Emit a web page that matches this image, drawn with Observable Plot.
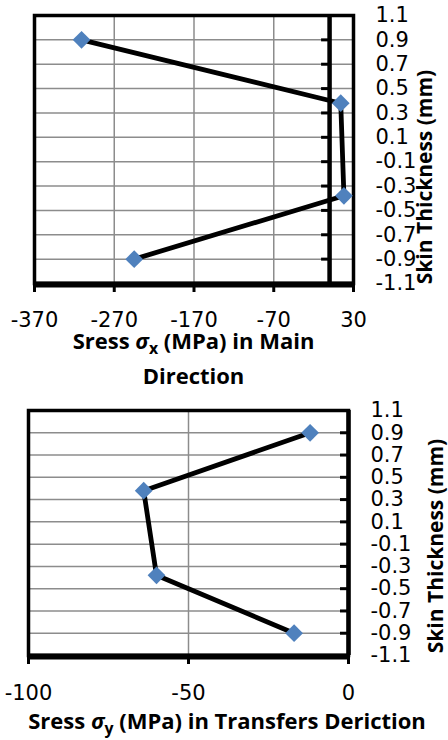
<!DOCTYPE html>
<html>
<head>
<meta charset="utf-8">
<script src="https://cdn.jsdelivr.net/npm/d3@7"></script>
<script src="https://cdn.jsdelivr.net/npm/@observablehq/plot@0.6"></script>
<style>
  html, body { margin: 0; padding: 0; background: #fff; }
  #wrap { position: relative; width: 448px; height: 740px; overflow: hidden; background: #fff; }
  .chart { position: absolute; left: 0; }
  .title { position: absolute; font-family: "Open Sans", sans-serif; font-weight: 700; font-size: 22px; line-height: 31.7px; color: #000; text-align: center; white-space: nowrap; }
  .title i { font-weight: 700; }
  .title .sub { font-size: 0.72em; position: relative; top: 0.3em; }
  .ylab { position: absolute; font-family: "Open Sans", sans-serif; font-weight: 700; font-size: 21px; color: #000; white-space: nowrap; transform: translate(-50%, -50%) rotate(-90deg); line-height: 1; }
</style>
</head>
<body>
<div id="wrap">
  <div id="c1" class="chart" style="top:0px"></div>
  <div id="c2" class="chart" style="top:390px"></div>
  <div class="title" style="left:34px; width:319px; top:325px">Sress <i>σ</i><span class="sub">x</span> (MPa) in Main<br>Direction</div>
  <div class="title" style="left:6px; width:442px; top:705px">Sress <i>σ</i><span class="sub">y</span> (MPa) in Transfers Deriction</div>
  <div class="ylab" style="left:424px; top:177px">Skin Thickness (mm)</div>
  <div class="ylab" style="left:435px; top:546px">Skin Thickness (mm)</div>
</div>
<script>
// Data
const thickness = [0.9, 0.38, -0.38, -0.9];          // mm
const sigmaX = [-311, 14, 18, -245];                  // MPa, main direction
const sigmaY = [-12, -64, -60, -17];                  // MPa, transverse direction
const yTicks = [1.1, 0.9, 0.7, 0.5, 0.3, 0.1, -0.1, -0.3, -0.5, -0.7, -0.9, -1.1];
const yGrid = [0.9, 0.7, 0.5, 0.3, 0.1, -0.1, -0.3, -0.5, -0.7, -0.9];
const xTicksMain = [-370, -270, -170, -70, 30];
const xGridMain = [-270, -170, -70];
const xTicksTrans = [-100, -50, 0];
const xGridTrans = [-50];

const dataMain = thickness.map((t, i) => ({t, s: sigmaX[i]}));
const dataTrans = thickness.map((t, i) => ({t, s: sigmaY[i]}));

const fmt = d => String(d);
const gridColor = "#8c8c8c";
const blue = "#4F81BD";

function chart({data, xDomain, xTicks, xGrid, height, marginLeft, marginRight, marginTop, marginBottom, labelPad}) {
  return Plot.plot({
    width: 448,
    height,
    marginLeft, marginRight, marginTop, marginBottom,
    style: {fontFamily: "DejaVu Sans", fontSize: "21px", color: "#000", background: "transparent", overflow: "visible"},
    x: {domain: xDomain},
    y: {domain: [-1.1, 1.1]},
    marks: [
      Plot.gridY(yGrid, {stroke: gridColor, strokeOpacity: 1, strokeWidth: 1.5}),
      Plot.gridX(xGrid, {stroke: gridColor, strokeOpacity: 1, strokeWidth: 1.5}),
      Plot.frame({stroke: "#000", strokeWidth: 3.5}),
      Plot.ruleY([-1.1], {stroke: "#000", strokeWidth: 6, dy: 1}),
      Plot.ruleX([0], {stroke: "#000", strokeWidth: 4.5}),
      Plot.ruleY(yTicks, {y: d => d, x1: 0, x2: 0, insetLeft: -8, stroke: "#000", strokeWidth: 3}),
      Plot.axisX({ticks: xTicks, tickFormat: fmt, tickSize: 9, tickPadding: labelPad, strokeWidth: 3, label: null, fontSize: 21}),
      Plot.axisY({anchor: "right", ticks: yTicks, tickFormat: fmt, tickSize: 0, tickPadding: 22, label: null, fontSize: 21}),
      Plot.line(data, {x: "s", y: "t", stroke: "#000", strokeWidth: 4.8}),
      Plot.dot(data, {x: "s", y: "t", symbol: "diamond2", r: 8, fill: blue, stroke: "none"})
    ]
  });
}

document.getElementById("c1").append(chart({
  data: dataMain, xDomain: [-370, 30], xTicks: xTicksMain, xGrid: xGridMain,
  height: 340, marginLeft: 34, marginRight: 95, marginTop: 15, marginBottom: 57, labelPad: 20
}));
document.getElementById("c2").append(chart({
  data: dataTrans, xDomain: [-100, 0], xTicks: xTicksTrans, xGrid: xGridTrans,
  height: 320, marginLeft: 28, marginRight: 100, marginTop: 20, marginBottom: 55, labelPad: 21
}));
</script>
</body>
</html>
